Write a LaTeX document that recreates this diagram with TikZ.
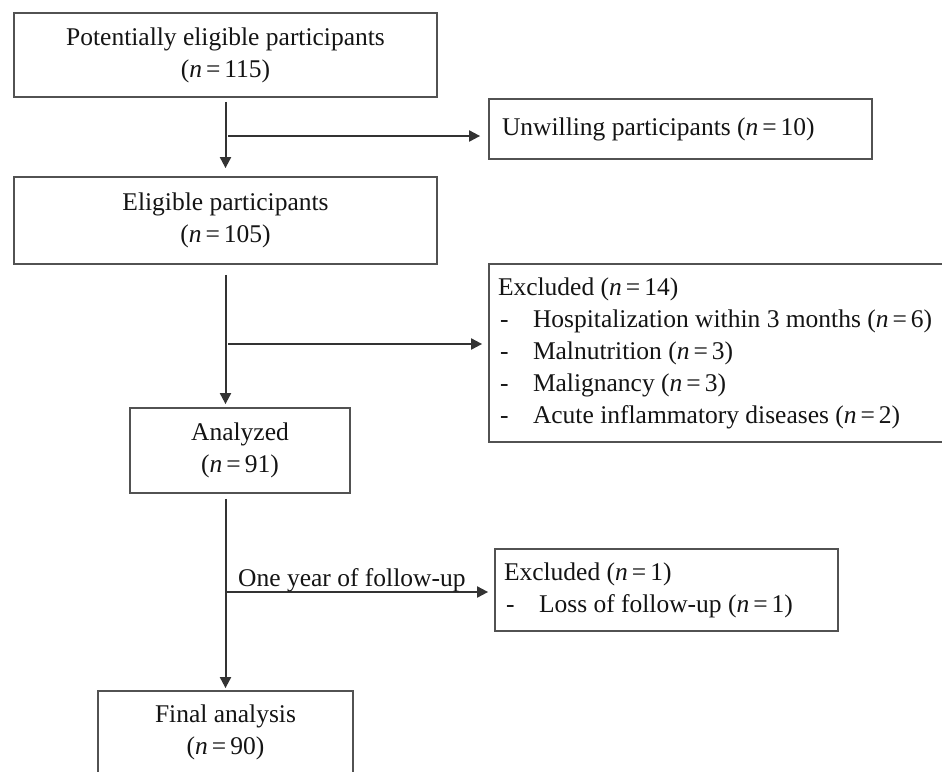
\documentclass[tikz,border=0pt]{standalone}
\usepackage{fontspec}
\setmainfont{Liberation Serif}
\usetikzlibrary{arrows.meta,calc}
\newcommand{\nn}[1]{(\textit{n}\kern4pt=\kern4pt#1)}
\newcommand{\itm}[1]{\makebox[35pt][l]{\hspace{2pt}-}#1}
\tikzset{
  box/.style={draw=black!68, line width=1.8pt, fill=white, text=black!92,
    font=\fontsize{25.5}{32}\selectfont, inner ysep=0pt},
  cbox/.style={box, align=flush center, inner xsep=0pt},
  lbox/.style={box, align=flush left},
  arr/.style={draw=black!80, line width=2pt, -{Triangle[length=11pt,width=11pt]}},
  lbl/.style={font=\fontsize{25.5}{32}\selectfont, text=black!92, inner sep=0pt}
}
\begin{document}
\begin{tikzpicture}[x=1pt,y=-1pt]
\useasboundingbox (0,0) rectangle (942,771);
\fill[white] (0,0) rectangle (942,771);
\clip (0,0) rectangle (942,771);
% boxes
\node[cbox, minimum width=423pt, minimum height=84pt] (b1) at (225.5,55)
  {Potentially eligible participants\\\nn{115}};
\node[lbox, inner xsep=13pt, text width=357pt, minimum height=60pt] (un) at (680.5,129)
  {Unwilling participants \nn{10}};
\node[cbox, minimum width=423pt, minimum height=87pt] (b2) at (225.5,220.5)
  {Eligible participants\\\nn{105}};
\node[lbox, inner xsep=9pt, text width=453pt, minimum height=178pt] (ex1) at (724.5,353)
  {Excluded \nn{14}\\
   \itm{Hospitalization within 3 months \nn{6}}\\
   \itm{Malnutrition \nn{3}}\\
   \itm{Malignancy \nn{3}}\\
   \itm{Acute inflammatory diseases \nn{2}}};
\node[cbox, minimum width=220pt, minimum height=85pt] (an) at (240,450.5)
  {Analyzed\\\nn{91}};
\node[lbox, inner xsep=9pt, text width=325pt, minimum height=82pt] (ex2) at (666.5,590)
  {Excluded \nn{1}\\
   \itm{Loss of follow-up \nn{1}}};
\node[cbox, minimum width=255pt, minimum height=82pt] (fa) at (225.5,732)
  {Final analysis\\\nn{90}};
% connectors
\coordinate (j1) at (228,136);
\coordinate (j2) at (228,344);
\coordinate (j3) at (227,592);
\draw[arr, shorten <=4pt, shorten >=8pt] (b1.south) -- (b2.north);
\draw[arr, shorten >=8pt] (j1) -- (j1 -| un.west);
\draw[arr, shorten <=10pt, shorten >=3pt] (b2.south) -- (b2.south |- an.north);
\draw[arr, shorten >=6pt] (j2) -- (j2 -| ex1.west);
\draw[arr, shorten <=5pt, shorten >=2pt] (an.south -| b1.south) -- (b1.south |- fa.north);
\draw[arr, shorten >=6pt] (j3) -- (j3 -| ex2.west);
\node[lbl, anchor=base west] (fu) at (238,586) {One year of follow-up};
\end{tikzpicture}
\end{document}
